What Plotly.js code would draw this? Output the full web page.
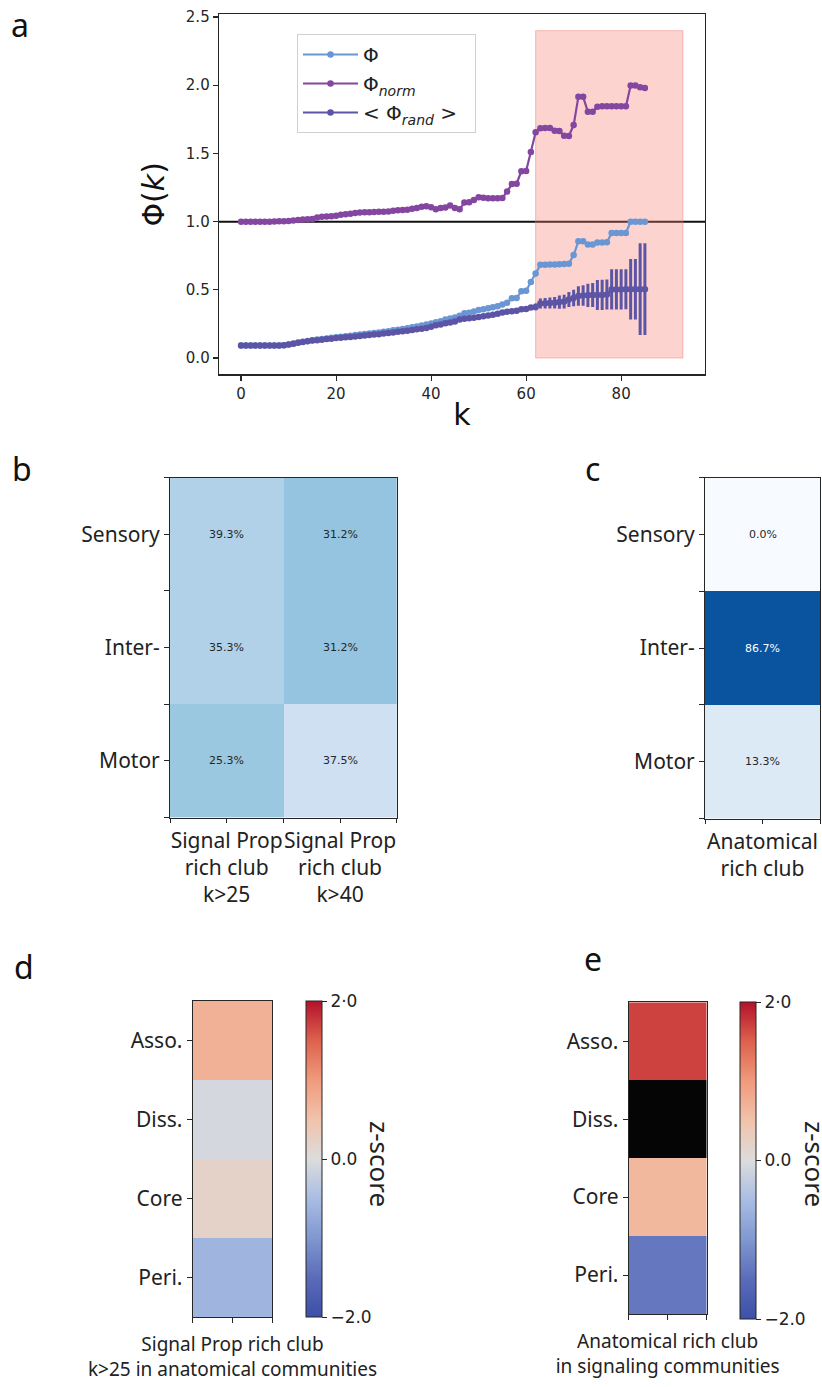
<!DOCTYPE html>
<html>
<head>
<meta charset="utf-8">
<script src="https://cdn.plot.ly/plotly-3.0.1.min.js"></script>
<style>html,body{margin:0;padding:0;background:#fff;}#chart{width:822px;height:1387px;}</style>
</head>
<body>
<div id="chart"></div>
<script>
// ---------- Panel a data ----------
const kValues = [0,1,2,3,4,5,6,7,8,9,10,11,12,13,14,15,16,17,18,19,20,21,22,23,24,25,26,27,28,29,
  30,31,32,33,34,35,36,37,38,39,40,41,42,43,44,45,46,47,48,49,50,51,52,53,54,55,56,57,58,59,
  60,61,62,63,64,65,66,67,68,69,70,71,72,73,74,75,76,77,78,79,80,81,82,83,84,85];
const phi = [0.091,0.091,0.091,0.091,0.091,0.091,0.091,0.091,0.092,0.094,
  0.1,0.106,0.113,0.12,0.125,0.13,0.135,0.139,0.144,0.148,
  0.152,0.156,0.16,0.164,0.168,0.172,0.176,0.18,0.184,0.188,
  0.192,0.197,0.203,0.208,0.213,0.218,0.225,0.232,0.238,0.246,
  0.254,0.262,0.27,0.282,0.29,0.298,0.31,0.328,0.332,0.342,
  0.352,0.358,0.365,0.372,0.38,0.392,0.405,0.438,0.44,0.49,
  0.493,0.558,0.62,0.683,0.684,0.685,0.686,0.688,0.69,0.692,
  0.755,0.856,0.856,0.832,0.832,0.847,0.847,0.848,0.917,0.917,
  0.917,0.917,1.0,1.0,1.0,1.0];
const phiNorm = [1.0,1.0,1.0,1.0,1.0,1.0,1.0,1.001,1.002,1.003,
  1.005,1.008,1.012,1.015,1.017,1.02,1.03,1.035,1.037,1.04,
  1.044,1.05,1.055,1.058,1.064,1.067,1.068,1.068,1.07,1.072,
  1.073,1.075,1.08,1.083,1.085,1.088,1.095,1.1,1.11,1.112,
  1.105,1.09,1.1,1.103,1.118,1.1,1.09,1.14,1.142,1.158,
  1.178,1.175,1.172,1.172,1.172,1.174,1.22,1.275,1.278,1.37,
  1.372,1.51,1.655,1.685,1.687,1.686,1.666,1.664,1.63,1.628,
  1.708,1.915,1.915,1.805,1.805,1.843,1.845,1.845,1.845,1.845,
  1.845,1.845,1.998,1.998,1.985,1.98];
const phiRand = [0.091,0.091,0.091,0.091,0.091,0.091,0.091,0.091,0.092,0.094,
  0.1,0.105,0.112,0.118,0.123,0.128,0.131,0.134,0.139,0.142,
  0.146,0.149,0.152,0.155,0.158,0.161,0.165,0.168,0.172,0.175,
  0.179,0.183,0.188,0.192,0.196,0.2,0.205,0.211,0.215,0.221,
  0.229,0.24,0.246,0.255,0.26,0.268,0.282,0.288,0.292,0.296,
  0.3,0.306,0.311,0.317,0.324,0.334,0.34,0.343,0.346,0.358,
  0.36,0.37,0.375,0.4,0.402,0.404,0.406,0.41,0.414,0.43,
  0.44,0.455,0.458,0.46,0.462,0.462,0.463,0.465,0.503,0.503,
  0.503,0.504,0.504,0.504,0.505,0.505];
const phiRandErr = [0.001,0.001,0.001,0.001,0.001,0.001,0.001,0.001,0.001,0.001,
  0.001,0.001,0.001,0.001,0.001,0.001,0.001,0.001,0.001,0.001,
  0.002,0.002,0.002,0.002,0.002,0.002,0.002,0.002,0.002,0.002,
  0.003,0.003,0.003,0.004,0.004,0.004,0.005,0.005,0.005,0.006,
  0.006,0.006,0.007,0.007,0.007,0.008,0.008,0.008,0.009,0.009,
  0.01,0.01,0.01,0.011,0.011,0.012,0.012,0.013,0.013,0.014,
  0.015,0.018,0.025,0.037,0.038,0.04,0.042,0.048,0.05,0.055,
  0.06,0.072,0.075,0.085,0.088,0.11,0.11,0.11,0.147,0.147,
  0.147,0.147,0.222,0.222,0.336,0.336];
const highlightK = [62, 93];
const highlightPhi = [0, 2.4];
const referenceLevel = 1.0;
const legendNames = ['Φ', 'Φ<sub><i>norm</i></sub>', '&lt; Φ<sub><i>rand</i></sub> &gt;&nbsp;&nbsp;'];

// ---------- Panels b, c data ----------
const regionRows = ['Sensory', 'Inter-', 'Motor'];
const signalCols = ['Signal Prop<br>rich club<br>k>25', 'Signal Prop<br>rich club<br>k>40'];
const signalPct = [[39.3, 31.2], [35.3, 31.2], [25.3, 37.5]];
const signalShade = [[0.32, 0.40], [0.32, 0.40], [0.385, 0.21]];
const anatCols = ['Anatomical<br>rich club'];
const anatPct = [0.0, 86.7, 13.3];

// ---------- Panels d, e data ----------
const commRows = ['Asso.', 'Diss.', 'Core', 'Peri.'];
const zSignalInAnat = [0.72, -0.08, 0.2, -0.62];
const zAnatInSignal = [1.7, null, 0.64, -1.36];
const zTickVals = [-2, 0, 2];
const zTickText = ['−2.0', '0.0', '2·0'];

// ---------- styles ----------
const W = 822, H = 1387;
const px = v => v / W;
const py = v => 1 - v / H;
const cPhi = '#6a96d4', cNorm = '#8446a0', cRand = '#5c55a6';
const dark = '#262626';
const blues = [[0,'#f7fbff'],[0.125,'#deebf7'],[0.25,'#c6dbef'],[0.375,'#9ecae1'],[0.5,'#6baed6'],[0.625,'#4292c6'],[0.75,'#2171b5'],[0.875,'#08519c'],[1,'#08306b']];
const coolwarm = [[0,'#3d4fa8'],[0.125,'#5a6cb8'],[0.25,'#8097d0'],[0.375,'#a9bde3'],[0.5,'#dcdcdc'],[0.625,'#f1c3ab'],[0.75,'#f09a7c'],[0.875,'#dd624d'],[1,'#b4112b']];
const labFont = {family:'Noto Sans', size:21, color:'#222'};

const traces = [];
traces.push({x:kValues, y:phi, type:'scatter', mode:'lines+markers', name:legendNames[0], legendgroup:'g1',
  line:{color:cPhi, width:2.2}, marker:{color:cPhi, size:6.5}, xaxis:'x', yaxis:'y'});
traces.push({x:kValues, y:phiNorm, type:'scatter', mode:'lines+markers', name:legendNames[1], legendgroup:'g2',
  line:{color:cNorm, width:2.2}, marker:{color:cNorm, size:6.5}, xaxis:'x', yaxis:'y'});
traces.push({x:kValues, y:phiRand, type:'scatter', mode:'lines+markers', name:legendNames[2], legendgroup:'g3',
  line:{color:cRand, width:2.2}, marker:{color:cRand, size:6.5},
  error_y:{type:'data', array:phiRandErr, visible:true, thickness:3, width:0, color:cRand}, xaxis:'x', yaxis:'y'});

// panel b
traces.push({type:'heatmap', x:signalCols.map((c,i)=>i), y:regionRows.map((r,i)=>i), z:signalShade,
  colorscale:blues, zmin:0, zmax:1, showscale:false, xaxis:'x2', yaxis:'y2', hoverinfo:'skip'});
// panel c
traces.push({type:'heatmap', x:[0], y:regionRows.map((r,i)=>i), z:anatPct.map(v=>[v]),
  colorscale:blues, zmin:0, zmax:100, showscale:false, xaxis:'x3', yaxis:'y3', hoverinfo:'skip'});
// panel d
const cbCommon = {thickness:16, thicknessmode:'pixels', lenmode:'fraction', xanchor:'left', yanchor:'middle',
  xpad:0, ypad:0, outlinewidth:1, outlinecolor:dark, ticks:'outside', ticklen:5, tickcolor:dark,
  tickvals:zTickVals, ticktext:zTickText, tickfont:{family:'DejaVu Sans', size:17, color:'#222'}};
traces.push({type:'heatmap', x:[0], y:commRows.map((r,i)=>i), z:zSignalInAnat.map(v=>[v]),
  colorscale:coolwarm, zmin:-2, zmax:2, xaxis:'x4', yaxis:'y4', hoverinfo:'skip',
  colorbar:Object.assign({}, cbCommon, {x:px(305.7), y:py(1159.2), len:(1317.3-1001)/H})});
// panel e
traces.push({type:'heatmap', x:[0], y:commRows.map((r,i)=>i), z:zAnatInSignal.map(v=>[v]),
  colorscale:coolwarm, zmin:-2, zmax:2, xaxis:'x5', yaxis:'y5', hoverinfo:'skip',
  colorbar:Object.assign({}, cbCommon, {x:px(740), y:py(1160.5), len:(1319-1002)/H})});
traces.push({type:'heatmap', x:[0], y:commRows.map((r,i)=>i), z:zAnatInSignal.map(v=>[v===null?1:null]),
  colorscale:[[0,'#050505'],[1,'#050505']], showscale:false, xaxis:'x5', yaxis:'y5', hoverinfo:'skip'});

function heatX(domain, anchor, labels, extra){
  const tv = [], tt = [];
  labels.forEach((l,i)=>{ if(i===0){tv.push(-0.5); tt.push('');} tv.push(i); tt.push(l); tv.push(i+0.5); tt.push(''); });
  return Object.assign({domain:domain, anchor:anchor, range:[-0.5, labels.length-0.5], tickmode:'array', tickvals:tv, ticktext:tt,
    tickangle:0, ticks:'outside', ticklen:5, tickcolor:dark, showline:true, mirror:true, linecolor:dark, linewidth:1,
    showgrid:false, zeroline:false, tickfont:labFont, fixedrange:true}, extra||{});
}
function heatY(domain, anchor, labels, withEdges){
  const tv = [], tt = [];
  labels.forEach((l,i)=>{ if(withEdges && i===0){tv.push(-0.5); tt.push('');} tv.push(i); tt.push(l); if(withEdges){tv.push(i+0.5); tt.push('');} });
  return {domain:domain, anchor:anchor, range:[labels.length-0.5, -0.5], tickmode:'array', tickvals:tv, ticktext:tt,
    ticks:'outside', ticklen:5, tickcolor:dark, showline:true, mirror:true, linecolor:dark, linewidth:1,
    showgrid:false, zeroline:false, tickfont:labFont, fixedrange:true};
}

const annotations = [];
const panelLetters = [['a',20,24],['b',22,468],['c',592,469],['d',24,966],['e',593,958]];
panelLetters.forEach(p=>annotations.push({text:p[0], x:px(p[1]), y:py(p[2]), xref:'paper', yref:'paper',
  showarrow:false, xanchor:'center', yanchor:'middle', font:{family:'Noto Sans', size:32, color:'#111'}}));
signalPct.forEach((row,ri)=>row.forEach((v,ci)=>annotations.push({text:v.toFixed(1)+'%', x:ci, y:ri, xref:'x2', yref:'y2',
  showarrow:false, font:{family:'DejaVu Sans', size:11, color:signalShade[ri][ci]>0.6?'#fff':'#262626'}})));
anatPct.forEach((v,ri)=>annotations.push({text:v.toFixed(1)+'%', x:0, y:ri, xref:'x3', yref:'y3',
  showarrow:false, font:{family:'DejaVu Sans', size:11, color:v>60?'#fff':'#262626'}}));
[['x4',380],['x5',815]].forEach(a=>annotations.push({text:'z-score', x:px(a[1]), y:py(1164), xref:'paper', yref:'paper',
  showarrow:false, textangle:90, xanchor:'center', yanchor:'middle', font:{family:'Noto Sans', size:26, color:'#222'}}));

const layout = {
  width:W, height:H, margin:{l:0,r:0,t:0,b:0}, paper_bgcolor:'#fff', plot_bgcolor:'#fff',
  font:{family:'Noto Sans', color:'#222'}, showlegend:true,
  legend:{x:px(297), y:py(34), xanchor:'left', yanchor:'top', bgcolor:'rgba(255,255,255,0.9)', bordercolor:'#d0d0d0', borderwidth:1,
    font:{family:'DejaVu Sans', size:20, color:'#222'}, traceorder:'grouped', tracegroupgap:0, itemwidth:55},
  xaxis:{domain:[px(219), px(705)], anchor:'y', range:[-4.65, 97.65], tick0:0, dtick:20, ticks:'outside', ticklen:5, tickwidth:1.2,
    tickcolor:dark, showline:true, mirror:true, linecolor:dark, linewidth:1.3, showgrid:false, zeroline:false,
    tickfont:{family:'DejaVu Sans', size:15, color:dark}, title:{text:'k', font:{family:'DejaVu Sans', size:30, color:'#111'}, standoff:2}},
  yaxis:{domain:[py(374.4), py(14.3)], anchor:'x', range:[-0.12, 2.52], tick0:0, dtick:0.5, tickformat:'.1f', ticks:'outside', ticklen:5, tickwidth:1.2,
    tickcolor:dark, showline:true, mirror:true, linecolor:dark, linewidth:1.3, showgrid:false, zeroline:false,
    tickfont:{family:'DejaVu Sans', size:15, color:dark}, title:{text:'Φ(<i>k</i>)', font:{family:'DejaVu Sans', size:30, color:'#111'}, standoff:12}},
  xaxis2:heatX([px(170), px(396.7)], 'y2', signalCols, {ticklen:4}),
  yaxis2:heatY([py(817.5), py(477.7)], 'x2', regionRows, true),
  xaxis3:heatX([px(705), px(820)], 'y3', anatCols, {ticklen:4}),
  yaxis3:heatY([py(818.5), py(477.7)], 'x3', regionRows, true),
  xaxis4:heatX([px(192.7), px(272.3)], 'y4', [''], {title:{text:'Signal Prop rich club<br>k>25 in anatomical communities', font:{family:'Noto Sans', size:19, color:'#222'}, standoff:11}}),
  yaxis4:heatY([py(1317.3), py(1001)], 'x4', commRows, false),
  xaxis5:heatX([px(628.7), px(706.7)], 'y5', [''], {title:{text:'Anatomical rich club<br>in signaling communities', font:{family:'Noto Sans', size:19, color:'#222'}, standoff:11}}),
  yaxis5:heatY([py(1314), py(1002.3)], 'x5', commRows, false),
  shapes:[
    {type:'rect', xref:'x', yref:'y', x0:highlightK[0], x1:highlightK[1], y0:highlightPhi[0], y1:highlightPhi[1],
      fillcolor:'rgba(245,120,110,0.33)', line:{color:'rgba(240,120,110,0.45)', width:1}, layer:'below'},
    {type:'line', xref:'x domain', yref:'y', x0:0, x1:1, y0:referenceLevel, y1:referenceLevel, line:{color:'#111', width:2}, layer:'below'}
  ],
  annotations:annotations
};
Plotly.newPlot('chart', traces, layout, {staticPlot:true, displayModeBar:false});
</script>
</body>
</html>
